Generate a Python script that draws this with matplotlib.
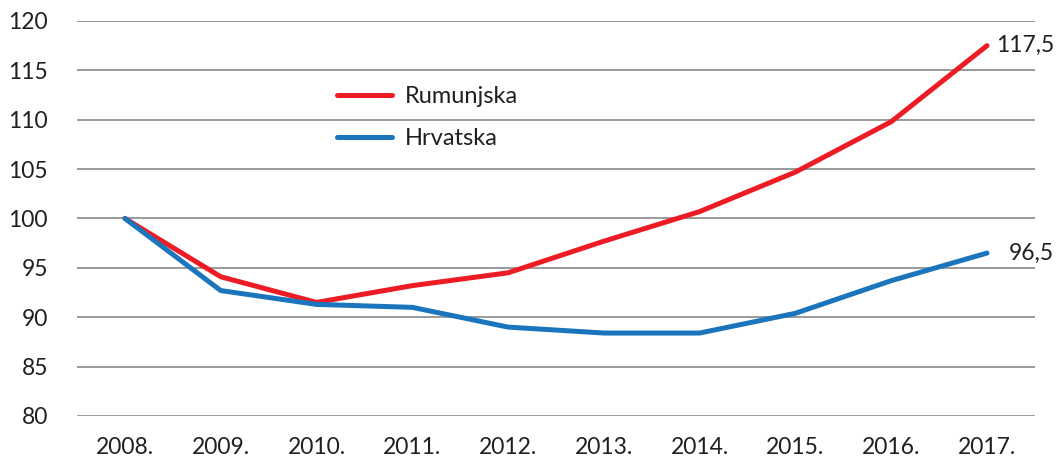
import matplotlib
matplotlib.use("Agg")
import matplotlib.pyplot as plt
import matplotlib.transforms as mtransforms

# data
years = ["2008.", "2009.", "2010.", "2011.", "2012.", "2013.", "2014.", "2015.", "2016.", "2017."]
rumunjska = [100, 94.1, 91.5, 93.2, 94.5, 97.7, 100.7, 104.7, 109.8, 117.5]
hrvatska = [100, 92.7, 91.3, 91.0, 89.0, 88.4, 88.4, 90.4, 93.7, 96.5]
yticks = [80, 85, 90, 95, 100, 105, 110, 115, 120]

plt.rcParams['font.family'] = ['Lato', 'DejaVu Sans']

fig = plt.figure(figsize=(10.56, 4.62), dpi=100)
ax = fig.add_axes([0.073, 0.0996, 0.907, 0.855])

x = list(range(len(years)))
ax.plot(x, rumunjska, color="#ED1C24", lw=3.6, solid_capstyle="round", label="Rumunjska", zorder=3)
ax.plot(x, hrvatska, color="#1B75BC", lw=3.6, solid_capstyle="round", label="Hrvatska", zorder=3)

ax.set_xlim(-0.5, len(years) - 0.5)
ax.set_ylim(80, 120)
ax.set_yticks(yticks)
ax.set_xticks(x)
ax.set_xticklabels(years)
ax.tick_params(axis="both", length=0, labelsize=16.5, colors="#231F20")
ax.tick_params(axis="y", pad=21)
ax.tick_params(axis="x", pad=15)
ax.yaxis.grid(True, color="#7f7f7f", lw=1.1)
for s in ax.spines.values():
    s.set_visible(False)

# end labels
trans = mtransforms.blended_transform_factory(fig.transFigure, ax.transData)
ax.text(0.998, rumunjska[-1], "117,5", transform=trans, ha="right", va="center", fontsize=16.5, color="#231F20")
ax.text(0.998, hrvatska[-1], "96,5", transform=trans, ha="right", va="center", fontsize=16.5, color="#231F20")

leg = ax.legend(loc="upper left", bbox_to_anchor=(0.271, 0.835), frameon=False, fontsize=17,
                borderpad=0, borderaxespad=0, handlelength=2.35, handletextpad=0.55, labelspacing=0.88)
for t in leg.get_texts():
    t.set_color("#231F20")

fig.savefig("out.png", dpi=100)
